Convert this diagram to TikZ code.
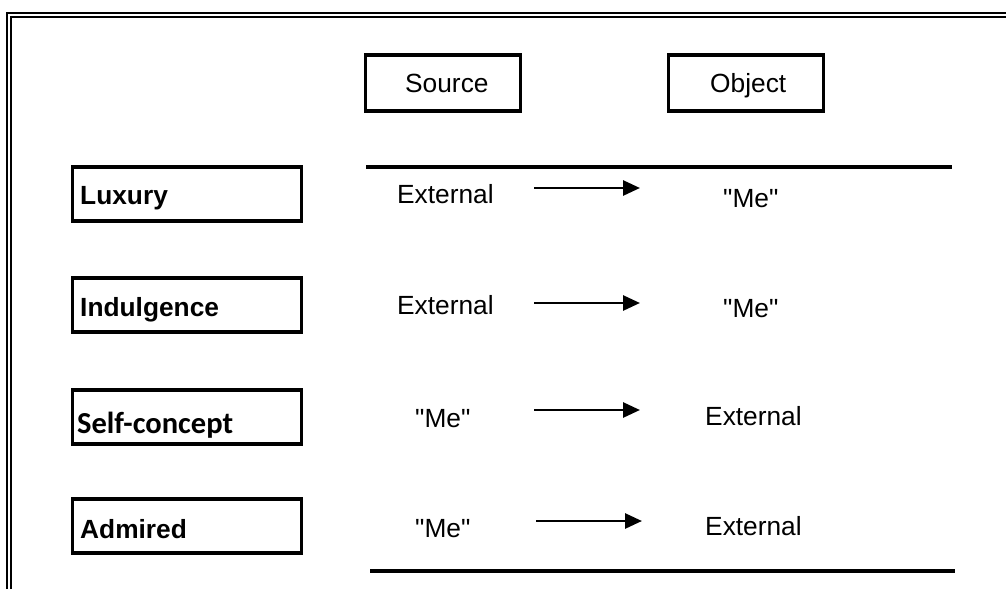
\documentclass[tikz,border=0pt]{standalone}
\usepackage{fontspec}
\setmainfont{Liberation Sans}
\newfontfamily\calib{Carlito}
\usetikzlibrary{arrows.meta}
\newcommand\qme{\textquotedbl Me\textquotedbl}
\begin{document}
\begin{tikzpicture}[x=1pt,y=-1pt,
  frame/.style={line width=2.6pt},
  hbox/.style={draw,line width=3.5pt,minimum width=155pt,minimum height=56pt,inner sep=0pt},
  lbox/.style={draw,line width=3.5pt,minimum width=229pt,minimum height=54pt,inner sep=0pt},
  ltext/.style={anchor=base west,inner sep=0pt,font=\fontsize{26.3}{30}\selectfont\bfseries},
  cell/.style={anchor=base west,inner sep=0pt,font=\fontsize{26.3}{30}\selectfont},
  rule/.style={line width=3.5pt},
  flow/.style={line width=2.8pt,-{Triangle[length=17pt,width=15pt]}}]
\useasboundingbox (0,0) rectangle (1006,589);
% double frame on the top and left edges
\draw[frame] (7,589) -- (7,13) -- (1006,13);
\draw[frame] (11,589) -- (11,17) -- (1006,17);
% column headings
\node[hbox] (src) at (443,83) {};
\node[cell] (srct) at (405,92) {Source};
\node[hbox] (obj) at (746,83) {};
\node[cell] (objt) at (710,92) {Object};
% table rules
\coordinate (t1) at (366,167); \coordinate (t2) at (952,167);
\coordinate (b1) at (370,571); \coordinate (b2) at (955,571);
\draw[rule] (t1) -- (t2);
\draw[rule] (b1) -- (b2);
% row labels
\node[lbox] (lux) at (187,194) {};
\node[ltext] (luxt) at (80,204) {Luxury};
\node[lbox] (ind) at (187,305) {};
\node[ltext] (indt) at (80,316) {Indulgence};
\node[lbox] (self) at (187,417) {};
\node[ltext,font=\calib\fontsize{30.5}{34}\selectfont\bfseries] (selft) at (77,433) {Self-concept};
\node[lbox] (adm) at (187,526) {};
\node[ltext] (admt) at (80,538) {Admired};
% rows: source -> object
\node[cell] (s1) at (397,203) {External};
\node[cell] (o1) at (723,207) {\qme};
\node[cell] (s2) at (397,314) {External};
\node[cell] (o2) at (723,317) {\qme};
\node[cell] (s3) at (415,427) {\qme};
\node[cell] (o3) at (705,425) {External};
\node[cell] (s4) at (415,537) {\qme};
\node[cell] (o4) at (705,535) {External};
\coordinate (a1) at (534,188); \coordinate (e1) at (640,188);
\coordinate (a2) at (534,303); \coordinate (e2) at (640,303);
\coordinate (a3) at (534,410); \coordinate (e3) at (640,410);
\coordinate (a4) at (536,521); \coordinate (e4) at (642,521);
\draw[flow] (a1) -- (e1);
\draw[flow] (a2) -- (e2);
\draw[flow] (a3) -- (e3);
\draw[flow] (a4) -- (e4);
\end{tikzpicture}
\end{document}
